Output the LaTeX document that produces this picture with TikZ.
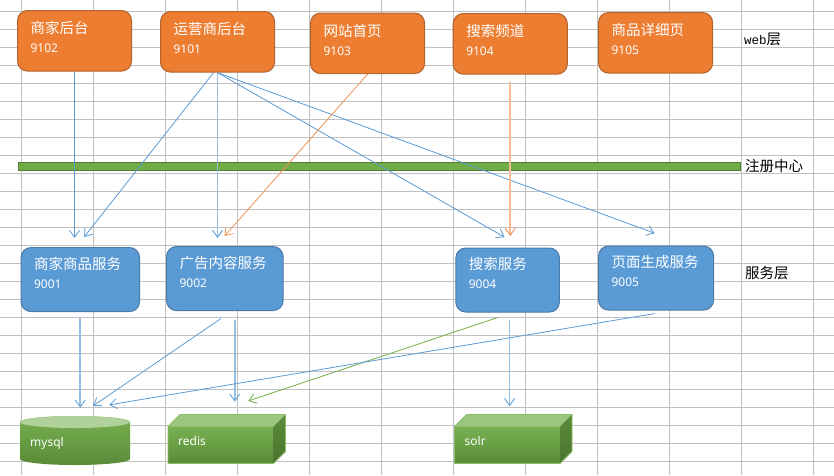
\documentclass[tikz,border=0pt]{standalone}
\usepackage{fontspec}
\setmainfont{Noto Sans CJK SC}
\newfontfamily\portfont{Noto Sans}
\newfontfamily\monofont{Liberation Mono}
\usetikzlibrary{arrows.meta}
\definecolor{orangefill}{HTML}{ED7D31}
\definecolor{orangeline}{HTML}{B5652F}
\definecolor{bluefill}{HTML}{5B9BD5}
\definecolor{blueline}{HTML}{4A7BA8}
\definecolor{greenfill}{HTML}{70AD47}
\definecolor{greenline}{HTML}{507E32}
\definecolor{gridline}{HTML}{C0C0C0}
\tikzset{
  x=1pt,y=-1pt,
  webbox/.style={draw=orangeline,line width=1.1pt,fill=orangefill,rounded corners=10pt,anchor=north west,
    text=white,font=\fontsize{14.5}{17}\selectfont,align=left,inner xsep=13pt,inner ysep=0pt,
    text width=88pt,minimum height=60.5pt,text depth=26pt},
  svcbox/.style={draw=blueline,line width=1.1pt,fill=bluefill,rounded corners=10pt,anchor=north west,
    text=white,font=\fontsize{14.5}{17}\selectfont,align=left,inner xsep=13pt,inner ysep=0pt,
    text width=#1,minimum height=64pt,text depth=33pt},
  sidelabel/.style={anchor=west,inner sep=0pt,font=\fontsize{14.5}{17}\selectfont},
  storelabel/.style={anchor=west,inner sep=0pt,text=white,font=\portfont\fontsize{12}{14}\selectfont,
    minimum height=12pt},
  flow/.style={draw=bluefill,line width=0.8pt,-{Straight Barb[length=7pt,width=10pt]}},
  flowpale/.style={draw=bluefill!65,line width=1.7pt,-{Straight Barb[length=7pt,width=10pt,line width=1pt,color=bluefill!90]}},
  flowred/.style={draw=orangefill!85,line width=0.8pt,-{Straight Barb[length=7pt,width=10pt]}},
  flowredpale/.style={draw=orangefill!50,line width=1.7pt,-{Straight Barb[length=7pt,width=10pt,line width=1pt,color=orangefill!80]}},
  flowgreen/.style={draw=greenfill,line width=0.8pt,-{Straight Barb[length=7pt,width=10pt]}},
}
\newcommand{\portline}[2]{#1\\[2pt]{\portfont\fontsize{12}{14}\selectfont #2}}
\begin{document}
\begin{tikzpicture}
\useasboundingbox (0,0) rectangle (834,475);
\fill[white] (0,0) rectangle (834,475);
\foreach \y in {11,29,...,461} \draw[gridline,line width=1pt] (0,\y) -- (834,\y);
\foreach \x in {21,93,...,813} \draw[gridline,line width=1pt] (\x,0) -- (\x,475);

\node[webbox] (sjht) at (17,10) {\portline{商家后台}{9102}};
\node[webbox] (yyht) at (160,11) {\portline{运营商后台}{9101}};
\node[webbox] (wzsy) at (310,12.5) {\portline{网站首页}{9103}};
\node[webbox] (sspd) at (452.7,13) {\portline{搜索频道}{9104}};
\node[webbox] (spxq) at (598,12) {\portline{商品详细页}{9105}};

\node[draw=greenline,line width=0.8pt,fill=greenfill,anchor=north west,inner sep=0pt,
  minimum width=722pt,minimum height=8pt] (regbar) at (17.5,161.5) {};

\node[svcbox=92.5pt] (sjfw) at (20.5,247) {\portline{商家商品服务}{9001}};
\node[svcbox=90.5pt] (ggfw) at (166,246) {\portline{广告内容服务}{9002}};
\node[svcbox=77.5pt] (ssfw) at (455.3,247.5) {\portline{搜索服务}{9004}};
\node[svcbox=89pt] (ymfw) at (598,245.5) {\portline{页面生成服务}{9005}};

\node[sidelabel] (weblabel) at (744,39) {{\monofont\fontsize{12.5}{14}\selectfont web}层};
\node[sidelabel] (reglabel) at (745,165.5) {注册中心};
\node[sidelabel] (svclabel) at (745,273) {服务层};

\shade[top color=greenfill!95!white,bottom color=greenfill!80!black] (20,422) -- (20,459)
  arc (180:360:55pt and 6pt) -- (130,422) arc (0:180:55pt and 6pt) -- cycle;
\fill[greenfill!55!white] (75,422) ellipse (55pt and 6pt);
\node[inner sep=0pt,minimum width=110pt,minimum height=49pt] (mysql) at (75,440.5) {};
\node[storelabel] (mysqltext) at (30,443) {mysql};

\foreach \nm/\lx in {redis/168,solr/454.5} {
  \shade[top color=greenfill!95!white,bottom color=greenfill!80!black] (\lx,426.5) rectangle (\lx+105.5,463.5);
  \fill[greenfill!70!white] (\lx,426.5) -- (\lx+12,414.5) -- (\lx+117.5,414.5) -- (\lx+105.5,426.5) -- cycle;
  \shade[top color=greenfill!80!black,bottom color=greenfill!68!black] (\lx+105.5,426.5) -- (\lx+117.5,414.5)
    -- (\lx+117.5,451.5) -- (\lx+105.5,463.5) -- cycle;
  \draw[greenfill!80!white,line width=0.8pt] (\lx,426.5) -- (\lx+12,414.5) -- (\lx+117.5,414.5) -- (\lx+117.5,451.5)
    -- (\lx+105.5,463.5) -- (\lx,463.5) -- cycle;
  \node[inner sep=0pt,minimum width=117.5pt,minimum height=49pt] (\nm) at (\lx+58.75,439) {};
  \node[storelabel] (\nm text) at (\lx+10,441) {\nm};
}

\draw[flow,shorten >=9pt] (sjht.south) -- (sjht.south |- sjfw.north);
\draw[flow,shorten >=12.7pt] ([xshift=-4]yyht.south) -- ([xshift=-4]sjfw.north);
\draw[flowpale,shorten >=8pt] (yyht.south) -- (yyht.south |- ggfw.north);
\draw[flow,shorten >=20.8pt] (yyht.south) -- ([xshift=15]ssfw.north);
\draw[flow,shorten >=35.7pt] (yyht.south) -- ([xshift=32]ymfw.north);
\draw[flowred,shorten >=13.3pt] (wzsy.south) -- ([xshift=-9]ggfw.north);
\draw[flowredpale,shorten <=7pt,shorten >=11.5pt] (sspd.south) -- (sspd.south |- ssfw.north);

\draw[flowpale,shorten <=6pt,shorten >=8pt] (sjfw.south) -- (sjfw.south |- mysql.north);
\draw[flow,shorten <=13.2pt,shorten >=17.6pt] ([xshift=7]ggfw.south) -- ([xshift=3.6]mysql.north);
\draw[flowpale,shorten <=8.5pt,shorten >=12.5pt] ([xshift=10]ggfw.south) -- ([xshift=10]ggfw.south |- redis.north);
\draw[flowgreen,shorten <=15.6pt,shorten >=42.2pt] ([xshift=4.8]ssfw.south) -- ([xshift=-18.5]redis.north);
\draw[flowpale,shorten <=7pt,shorten >=8pt] ([xshift=2]ssfw.south) -- ([xshift=2]ssfw.south |- solr.north);
\draw[flow,shorten <=18pt,shorten >=66pt] ([xshift=16.3]ymfw.south) -- ([xshift=-31]mysql.north);
\end{tikzpicture}
\end{document}
